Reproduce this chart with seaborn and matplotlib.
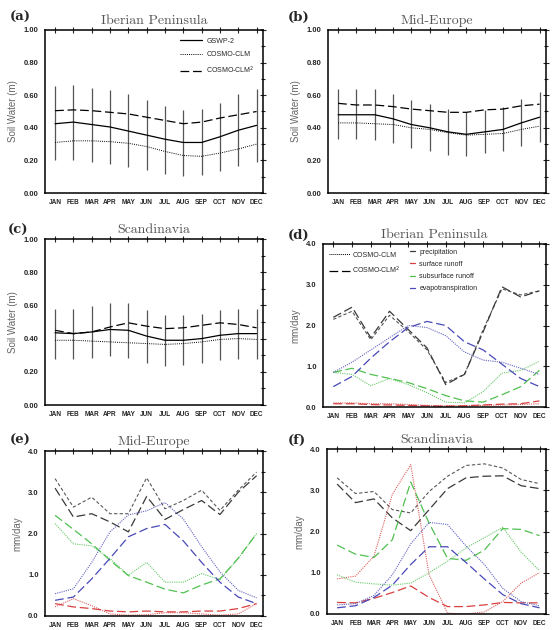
import numpy as np
import pandas as pd
import matplotlib
matplotlib.use("Agg")
import matplotlib.pyplot as plt
import seaborn as sns
from matplotlib.lines import Line2D
from matplotlib.ticker import MultipleLocator

months = ['JAN', 'FEB', 'MAR', 'APR', 'MAY', 'JUN', 'JUL', 'AUG', 'SEP', 'OCT', 'NOV', 'DEC']

# soil water (m) - GSWP-2, COSMO-CLM, COSMO-CLM2, GSWP-2 spread (low/high)
ip_gswp = [0.425, 0.435, 0.42, 0.405, 0.38, 0.355, 0.33, 0.31, 0.31, 0.345, 0.385, 0.415]
ip_clm = [0.31, 0.32, 0.32, 0.315, 0.305, 0.285, 0.255, 0.23, 0.225, 0.245, 0.27, 0.30]
ip_clm2 = [0.505, 0.51, 0.505, 0.495, 0.485, 0.465, 0.445, 0.425, 0.435, 0.46, 0.48, 0.50]
ip_lo = [0.20, 0.205, 0.19, 0.18, 0.16, 0.14, 0.115, 0.105, 0.11, 0.135, 0.165, 0.19]
ip_hi = [0.655, 0.66, 0.645, 0.63, 0.605, 0.57, 0.535, 0.51, 0.515, 0.555, 0.605, 0.64]

me_gswp = [0.48, 0.48, 0.48, 0.455, 0.42, 0.40, 0.375, 0.36, 0.375, 0.39, 0.43, 0.465]
me_clm = [0.43, 0.43, 0.425, 0.42, 0.40, 0.39, 0.37, 0.355, 0.36, 0.365, 0.39, 0.41]
me_clm2 = [0.55, 0.54, 0.54, 0.53, 0.515, 0.505, 0.495, 0.495, 0.51, 0.515, 0.535, 0.545]
me_lo = [0.33, 0.33, 0.325, 0.305, 0.275, 0.255, 0.235, 0.225, 0.245, 0.26, 0.29, 0.315]
me_hi = [0.64, 0.64, 0.64, 0.61, 0.57, 0.545, 0.515, 0.495, 0.51, 0.525, 0.575, 0.62]

sc_gswp = [0.435, 0.43, 0.44, 0.455, 0.45, 0.415, 0.39, 0.39, 0.40, 0.42, 0.43, 0.43]
sc_clm = [0.39, 0.39, 0.385, 0.38, 0.375, 0.37, 0.365, 0.37, 0.38, 0.395, 0.40, 0.395]
sc_clm2 = [0.45, 0.43, 0.44, 0.47, 0.495, 0.475, 0.46, 0.465, 0.48, 0.495, 0.485, 0.465]
sc_lo = [0.28, 0.28, 0.285, 0.295, 0.285, 0.255, 0.235, 0.24, 0.255, 0.27, 0.28, 0.28]
sc_hi = [0.58, 0.58, 0.595, 0.615, 0.615, 0.575, 0.545, 0.54, 0.55, 0.57, 0.58, 0.58]

# water fluxes (mm/day), COSMO-CLM and COSMO-CLM2
ip_prec_clm = [2.15, 2.35, 1.65, 2.25, 1.85, 1.4, 0.6, 0.8, 1.9, 2.9, 2.75, 2.85]
ip_prec_clm2 = [2.2, 2.45, 1.7, 2.35, 1.9, 1.45, 0.55, 0.8, 1.85, 2.95, 2.7, 2.85]
ip_srf_clm = [0.1, 0.1, 0.08, 0.08, 0.06, 0.04, 0.03, 0.03, 0.04, 0.05, 0.06, 0.08]
ip_srf_clm2 = [0.08, 0.08, 0.06, 0.05, 0.04, 0.03, 0.02, 0.03, 0.05, 0.07, 0.08, 0.15]
ip_sub_clm = [0.85, 0.8, 0.52, 0.7, 0.55, 0.35, 0.12, 0.1, 0.38, 0.83, 0.9, 1.12]
ip_sub_clm2 = [0.85, 0.95, 0.8, 0.7, 0.6, 0.45, 0.28, 0.15, 0.12, 0.3, 0.5, 0.9]
ip_evap_clm = [0.85, 1.1, 1.4, 1.7, 2.0, 1.95, 1.75, 1.35, 1.15, 1.1, 0.95, 0.8]
ip_evap_clm2 = [0.5, 0.75, 1.2, 1.6, 1.95, 2.1, 2.0, 1.6, 1.4, 1.05, 0.7, 0.5]

me_prec_clm = [3.33, 2.64, 2.88, 2.48, 2.48, 3.35, 2.6, 2.8, 3.05, 2.56, 3.05, 3.49]
me_prec_clm2 = [3.1, 2.4, 2.48, 2.28, 2.04, 2.9, 2.34, 2.58, 2.8, 2.46, 3.0, 3.4]
me_srf_clm = [0.22, 0.42, 0.25, 0.05, 0.02, 0.03, 0.08, 0.08, 0.05, 0.02, 0.05, 0.3]
me_srf_clm2 = [0.3, 0.22, 0.18, 0.12, 0.1, 0.12, 0.1, 0.1, 0.12, 0.12, 0.18, 0.3]
me_sub_clm = [2.24, 1.75, 1.7, 1.39, 0.99, 1.3, 0.82, 0.82, 1.03, 0.88, 1.4, 2.0]
me_sub_clm2 = [2.44, 2.1, 1.75, 1.35, 0.98, 0.82, 0.65, 0.56, 0.75, 0.9, 1.4, 2.0]
me_evap_clm = [0.54, 0.66, 1.3, 2.04, 2.45, 2.55, 2.75, 2.35, 1.68, 1.07, 0.62, 0.44]
me_evap_clm2 = [0.38, 0.46, 0.9, 1.4, 1.92, 2.12, 2.22, 1.82, 1.3, 0.82, 0.46, 0.3]

sc_prec_clm = [3.3, 2.92, 2.97, 2.53, 2.45, 2.97, 3.34, 3.6, 3.64, 3.54, 3.26, 3.16]
sc_prec_clm2 = [3.15, 2.7, 2.79, 2.33, 2.02, 2.53, 3.04, 3.3, 3.34, 3.35, 3.11, 3.04]
sc_srf_clm = [0.85, 0.92, 1.4, 2.9, 3.62, 0.95, 0.02, 0.0, 0.05, 0.3, 0.75, 1.0]
sc_srf_clm2 = [0.28, 0.27, 0.38, 0.52, 0.68, 0.4, 0.18, 0.18, 0.22, 0.28, 0.27, 0.27]
sc_sub_clm = [0.95, 0.77, 0.73, 0.7, 0.75, 1.0, 1.28, 1.6, 1.85, 2.1, 1.5, 1.05]
sc_sub_clm2 = [1.67, 1.45, 1.37, 1.8, 3.2, 2.2, 1.35, 1.3, 1.55, 2.07, 2.05, 1.9]
sc_evap_clm = [0.22, 0.25, 0.45, 0.95, 1.7, 2.22, 2.17, 1.65, 1.2, 0.62, 0.3, 0.2]
sc_evap_clm2 = [0.15, 0.2, 0.4, 0.7, 1.2, 1.63, 1.63, 1.25, 0.85, 0.47, 0.25, 0.15]

x = np.arange(12)

sns.set_style("white")
plt.rcParams['font.family'] = ['Liberation Sans', 'DejaVu Sans']

fig = plt.figure(figsize=(5.58, 6.3), dpi=100)
W, H = 558.0, 630.0


def add_ax(left, top, right, bottom):
    return fig.add_axes([left / W, 1 - bottom / H, (right - left) / W, (bottom - top) / H])


def style_ax(ax, title, ylabel, ymax, major, minor, fmt):
    ax.set_xlim(-0.55, 11.35)
    ax.set_ylim(0, ymax)
    ax.set_xticks(x)
    ax.set_xticklabels(months, fontsize=4.7, fontweight='bold')
    ax.yaxis.set_major_locator(MultipleLocator(major))
    ax.yaxis.set_minor_locator(MultipleLocator(minor))
    ax.set_yticklabels([fmt.format(v) for v in ax.get_yticks()], fontsize=5.5, fontweight='bold')
    ax.tick_params(which='both', top=True, right=True, direction='inout', width=0.8, pad=2)
    ax.tick_params(which='major', length=5)
    ax.tick_params(which='minor', length=3)
    for s in ax.spines.values():
        s.set_linewidth(1.1)
        s.set_color('black')
    ax.set_title(title, fontfamily='cmr10', fontsize=10, color='#555555', pad=4)
    ax.set_ylabel(ylabel, fontsize=7, color='#666666', labelpad=4)
    ax.set_xlabel('')


def soil_panel(ax, gswp, clm, clm2, lo, hi, title):
    ax.vlines(x, lo, hi, color='#555555', lw=0.9)
    sns.lineplot(x=x, y=gswp, ax=ax, color='black', lw=0.9, linestyle='-', legend=False)
    sns.lineplot(x=x, y=clm, ax=ax, color='black', lw=0.7, linestyle=(0, (1, 1.2)), legend=False)
    sns.lineplot(x=x, y=clm2, ax=ax, color='black', lw=0.9, linestyle=(0, (7, 3)), legend=False)
    style_ax(ax, title, 'Soil Water (m)', 1.0, 0.2, 0.1, '{:.2f}')


flux_colors = {'precipitation': '#3a3a3a', 'surface runoff': '#d84040',
               'subsurface runoff': '#50c050', 'evapotranspiration': '#4848b8'}


def flux_panel(ax, series, title):
    for name, (clm, clm2) in series.items():
        c = flux_colors[name]
        dot = (0, (3, 2)) if name == 'precipitation' else (0, (1, 1))
        sns.lineplot(x=x, y=clm, ax=ax, color=c, lw=0.8, linestyle=dot, alpha=0.85, legend=False)
        sns.lineplot(x=x, y=clm2, ax=ax, color=c, lw=0.9, linestyle=(0, (7, 3)), legend=False)
    style_ax(ax, title, 'mm/day', 4.0, 1.0, 0.5, '{:.1f}')


ax_a = add_ax(45, 30, 263, 193)
ax_b = add_ax(328, 30, 546, 193)
ax_c = add_ax(45, 239, 263, 405)
ax_d = add_ax(323, 244, 546, 407)
ax_e = add_ax(45, 451, 263, 616)
ax_f = add_ax(327, 449, 546, 614)

soil_panel(ax_a, ip_gswp, ip_clm, ip_clm2, ip_lo, ip_hi, 'Iberian Peninsula')
soil_panel(ax_b, me_gswp, me_clm, me_clm2, me_lo, me_hi, 'Mid-Europe')
soil_panel(ax_c, sc_gswp, sc_clm, sc_clm2, sc_lo, sc_hi, 'Scandinavia')

flux_panel(ax_d, {'precipitation': (ip_prec_clm, ip_prec_clm2),
                  'surface runoff': (ip_srf_clm, ip_srf_clm2),
                  'subsurface runoff': (ip_sub_clm, ip_sub_clm2),
                  'evapotranspiration': (ip_evap_clm, ip_evap_clm2)}, 'Iberian Peninsula')
flux_panel(ax_e, {'precipitation': (me_prec_clm, me_prec_clm2),
                  'surface runoff': (me_srf_clm, me_srf_clm2),
                  'subsurface runoff': (me_sub_clm, me_sub_clm2),
                  'evapotranspiration': (me_evap_clm, me_evap_clm2)}, 'Mid-Europe')
flux_panel(ax_f, {'precipitation': (sc_prec_clm, sc_prec_clm2),
                  'surface runoff': (sc_srf_clm, sc_srf_clm2),
                  'subsurface runoff': (sc_sub_clm, sc_sub_clm2),
                  'evapotranspiration': (sc_evap_clm, sc_evap_clm2)}, 'Scandinavia')

# legend (a)
h_soil = [Line2D([], [], color='black', lw=0.9, ls='-'),
          Line2D([], [], color='black', lw=0.7, ls=(0, (1, 1.2))),
          Line2D([], [], color='black', lw=0.9, ls=(0, (7, 3)))]
ax_a.legend(h_soil, ['GSWP-2', 'COSMO-CLM', 'COSMO-CLM$^2$'], loc='upper right',
            bbox_to_anchor=(0.99, 0.99), frameon=False, fontsize=5, handlelength=3.2,
            labelspacing=0.9, handletextpad=0.6)

# legends (d)
h_run = [Line2D([], [], color='black', lw=0.7, ls=(0, (1, 1))),
         Line2D([], [], color='black', lw=0.9, ls=(0, (7, 3)))]
leg1 = ax_d.legend(h_run, ['COSMO-CLM', 'COSMO-CLM$^2$'], loc='upper left',
                   bbox_to_anchor=(0.0, 0.99), frameon=False, fontsize=5, handlelength=3.0,
                   labelspacing=0.8, handletextpad=0.3)
ax_d.add_artist(leg1)
h_var = [Line2D([], [], color=c, lw=0.9) for c in flux_colors.values()]
ax_d.legend(h_var, list(flux_colors.keys()), loc='upper left', bbox_to_anchor=(0.36, 1.01),
            frameon=False, fontsize=5, handlelength=0.8, labelspacing=0.75, handletextpad=0.6)

for lab, px, py in [('(a)', 10, 17), ('(b)', 288, 17), ('(c)', 8, 230),
                    ('(d)', 288, 235), ('(e)', 10, 440), ('(f)', 288, 440)]:
    fig.text(px / W, 1 - py / H, lab, fontfamily='DejaVu Serif', fontweight='bold',
             fontsize=9.5, va='center', ha='left')

fig.savefig('out.png', dpi=100)
